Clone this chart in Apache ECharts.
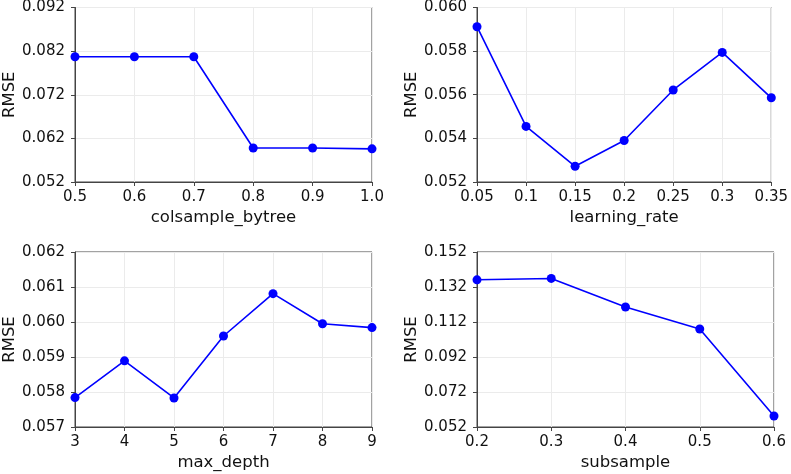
<!DOCTYPE html>
<html>
<head>
<meta charset="utf-8">
<script src="https://cdn.jsdelivr.net/npm/echarts@6/dist/echarts.min.js"></script>
<style>
html,body{margin:0;padding:0;background:#fff;}
#c{width:791px;height:474px;}
</style>
</head>
<body>
<div id="c"></div>
<script>
// Data
const colsampleX = [0.5, 0.6, 0.7, 0.8, 0.9, 1.0];
const colsampleRMSE = [0.0807, 0.0807, 0.0807, 0.0598, 0.0598, 0.0596];
const lrX = [0.05, 0.1, 0.15, 0.2, 0.25, 0.3, 0.35];
const lrRMSE = [0.05912, 0.05455, 0.05272, 0.05390, 0.05622, 0.05794, 0.05586];
const depthX = [3, 4, 5, 6, 7, 8, 9];
const depthRMSE = [0.05784, 0.05889, 0.05783, 0.05960, 0.06081, 0.05995, 0.05984];
const subX = [0.2, 0.3, 0.4, 0.5, 0.6];
const subRMSE = [0.1361, 0.1369, 0.1206, 0.1080, 0.0583];

// Tick labels
const yTicks1 = [0.052, 0.062, 0.072, 0.082, 0.092];
const yTicks2 = [0.052, 0.054, 0.056, 0.058, 0.060];
const yTicks3 = [0.057, 0.058, 0.059, 0.060, 0.061, 0.062];
const yTicks4 = [0.052, 0.072, 0.092, 0.112, 0.132, 0.152];
const xTicks1 = [0.5, 0.6, 0.7, 0.8, 0.9, 1.0];
const xTicks2 = [0.05, 0.1, 0.15, 0.2, 0.25, 0.3, 0.35];
const xTicks3 = [3, 4, 5, 6, 7, 8, 9];
const xTicks4 = [0.2, 0.3, 0.4, 0.5, 0.6];

const FONT = 'DejaVu Sans';
const FS = 15;
const NFS = 16.5;
const TXT = '#111';

function zip(xs, ys){ return xs.map((x,i)=>[x, ys[i]]); }

const grids = [
  {left:74, top:7, width:298, height:175},
  {left:477, top:7, width:297, height:175},
  {left:74, top:252, width:298, height:175},
  {left:477, top:252, width:297, height:175}
].map(g => Object.assign({show:true, borderColor:'#444', borderWidth:1, backgroundColor:'transparent'}, g));

function xAxis(i, name, ticks, fmt){
  return {
    type:'value', gridIndex:i, min:ticks[0], max:ticks[ticks.length-1],
    name:name, nameLocation:'middle', nameGap:27,
    nameTextStyle:{fontFamily:FONT, fontSize:NFS, color:TXT},
    axisLine:{show:true, lineStyle:{color:'#444', width:1}},
    axisTick:{show:true, length:4, inside:false, customValues:ticks, lineStyle:{color:'#444'}},
    axisLabel:{show:true, margin:8, customValues:ticks, fontFamily:FONT, fontSize:FS, color:TXT, formatter:fmt,
      showMinLabel:true, showMaxLabel:true},
    splitLine:{show:true, lineStyle:{color:'#ebebeb', width:1}}
  };
}
function yAxis(i, ticks, dec){
  return {
    type:'value', gridIndex:i, min:ticks[0], max:ticks[ticks.length-1],
    name:'RMSE', nameLocation:'middle', nameGap:57,
    nameTextStyle:{fontFamily:FONT, fontSize:NFS, color:TXT},
    axisLine:{show:true, lineStyle:{color:'#444', width:1}},
    axisTick:{show:true, length:4, inside:false, customValues:ticks, lineStyle:{color:'#444'}},
    axisLabel:{show:true, margin:10, customValues:ticks, fontFamily:FONT, fontSize:FS, color:TXT,
      formatter: v => v.toFixed(dec), showMinLabel:true, showMaxLabel:true},
    splitLine:{show:true, lineStyle:{color:'#ebebeb', width:1}}
  };
}
function series(i, data){
  return {
    type:'line', xAxisIndex:i, yAxisIndex:i, data:data,
    symbol:'circle', symbolSize:9, clip:false,
    lineStyle:{color:'#0000ff', width:1.6},
    itemStyle:{color:'#0000ff'},
    animation:false
  };
}

const chart = echarts.init(document.getElementById('c'), null, {renderer:'canvas'});
chart.setOption({
  animation:false,
  backgroundColor:'#fff',
  grid: grids,
  xAxis: [
    xAxis(0, 'colsample_bytree', xTicks1, v => v.toFixed(1)),
    xAxis(1, 'learning_rate', xTicks2, v => String(+v.toFixed(2))),
    xAxis(2, 'max_depth', xTicks3, v => String(Math.round(v))),
    xAxis(3, 'subsample', xTicks4, v => v.toFixed(1))
  ],
  yAxis: [
    yAxis(0, yTicks1, 3),
    yAxis(1, yTicks2, 3),
    yAxis(2, yTicks3, 3),
    yAxis(3, yTicks4, 3)
  ],
  series: [
    series(0, zip(colsampleX, colsampleRMSE)),
    series(1, zip(lrX, lrRMSE)),
    series(2, zip(depthX, depthRMSE)),
    series(3, zip(subX, subRMSE))
  ]
});
</script>
</body>
</html>
